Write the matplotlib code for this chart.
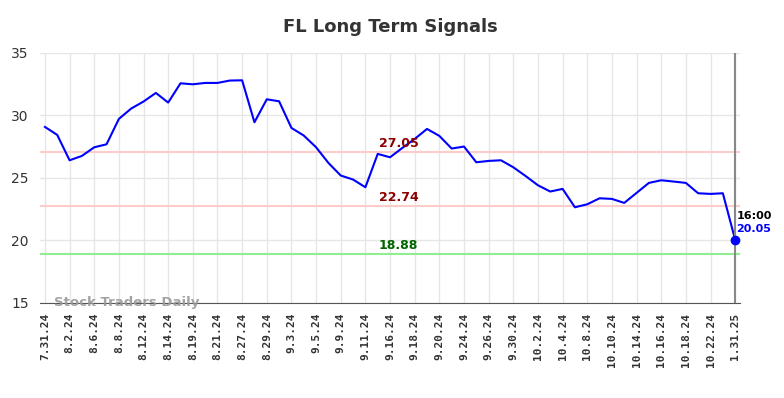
import numpy as np
import matplotlib.pyplot as plt

title = 'FL Long Term Signals'

tick_labels = ['7.31.24', '8.2.24', '8.6.24', '8.8.24', '8.12.24', '8.14.24', '8.19.24',
               '8.21.24', '8.27.24', '8.29.24', '9.3.24', '9.5.24', '9.9.24', '9.11.24',
               '9.16.24', '9.18.24', '9.20.24', '9.24.24', '9.26.24', '9.30.24', '10.2.24',
               '10.4.24', '10.8.24', '10.10.24', '10.14.24', '10.16.24', '10.18.24',
               '10.22.24', '1.31.25']

prices = [29.08, 28.44, 26.41, 26.76, 27.45, 27.69, 29.72, 30.55, 31.11, 31.80,
          31.03, 32.57, 32.49, 32.60, 32.60, 32.79, 32.81, 29.45, 31.29, 31.13,
          29.00, 28.39, 27.45, 26.20, 25.19, 24.87, 24.25, 26.92, 26.65, 27.40,
          28.12, 28.92, 28.36, 27.35, 27.51, 26.25, 26.36, 26.41, 25.85, 25.15,
          24.41, 23.91, 24.12, 22.65, 22.89, 23.37, 23.32, 23.00, 23.80, 24.60,
          24.81, 24.71, 24.60, 23.77, 23.72, 23.77, 20.05]

upper = 27.05
middle = 22.74
lower = 18.88
last_time = '16:00'

x = np.arange(len(prices))

fig = plt.figure(figsize=(7.84, 3.98), dpi=100)
ax = fig.add_axes([0.051, 0.239, 0.893, 0.628])

ax.grid(True, color='#e6e6e6', lw=1)
ax.set_axisbelow(True)

ax.axhline(upper, color='#ffcccc', lw=1.5)
ax.axhline(middle, color='#ffcccc', lw=1.5)
ax.axhline(lower, color='#90ee90', lw=1.5)

mid = 28.7
ax.text(mid, upper + 0.2, f'{upper:.2f}', color='#8b0000', fontsize=9,
        fontweight='bold', ha='center', va='bottom')
ax.text(mid, middle + 0.2, f'{middle:.2f}', color='#8b0000', fontsize=9,
        fontweight='bold', ha='center', va='bottom')
ax.text(mid, lower + 0.2, f'{lower:.2f}', color='#006400', fontsize=9,
        fontweight='bold', ha='center', va='bottom')

ax.plot(x, prices, color='blue', lw=1.5)
ax.axvline(x[-1], color='#888888', lw=1.5)
ax.plot(x[-1], prices[-1], 'o', color='blue', ms=6)

ax.text(x[-1] + 0.1, prices[-1] + 1.9, last_time, color='black', fontsize=8,
        fontweight='bold', ha='left', va='center')
ax.text(x[-1] + 0.1, prices[-1] + 0.87, f'{prices[-1]:.2f}', color='blue', fontsize=8,
        fontweight='bold', ha='left', va='center')

ax.text(0.7, 15.0, 'Stock Traders Daily', color='#999999', fontsize=9.5,
        fontweight='bold', ha='left', va='center', alpha=0.9)

ax.set_xlim(-0.4, len(prices) - 0.6)
ax.set_ylim(15, 35)
ax.set_yticks([15, 20, 25, 30, 35])
ax.set_xticks(x[::2])
ax.set_xticklabels(tick_labels, rotation=90, fontsize=8, fontweight='bold',
                   family='DejaVu Sans Mono')
ax.tick_params(axis='both', length=0, labelsize=10, colors='#333333')
ax.tick_params(axis='x', labelsize=8, pad=7)
ax.tick_params(axis='y', pad=8)

for s in ['top', 'right', 'left']:
    ax.spines[s].set_visible(False)
ax.spines['bottom'].set_color('#555555')

ax.set_title(title, fontsize=13, fontweight='bold', color='#333333', pad=15)

fig.savefig('out.png', dpi=100)
